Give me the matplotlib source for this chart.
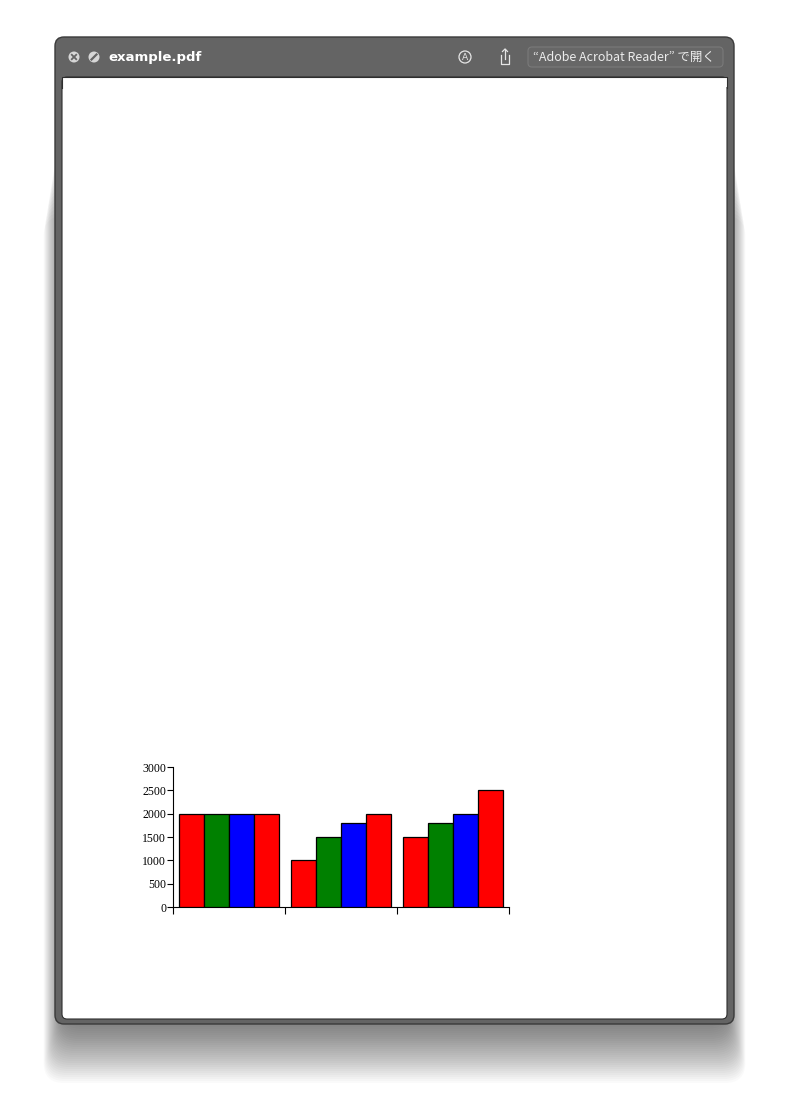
import matplotlib
matplotlib.use("Agg")
import matplotlib.pyplot as plt
from matplotlib.patches import FancyBboxPatch, Circle, Rectangle
import numpy as np

# Chart data
groups = ["", "", ""]
series_values = [
    [2000, 1000, 1500],
    [2000, 1500, 1800],
    [2000, 1800, 2000],
    [2000, 2000, 2500],
]
series_colors = ["#ff0000", "#008000", "#0000ff", "#ff0000"]
y_ticks = [0, 500, 1000, 1500, 2000, 2500, 3000]

# Window text
window_title = "example.pdf"
open_with = "\u201cAdobe Acrobat Reader\u201d で開く"

W, H = 789, 1098
fig = plt.figure(figsize=(W / 100, H / 100), dpi=100)
fig.patch.set_facecolor("white")

# Full-figure axes in pixel units for the window chrome
bg = fig.add_axes([0, 0, 1, 1])
bg.set_xlim(0, W)
bg.set_ylim(H, 0)
bg.axis("off")

# Soft shadow, mostly below the window; outer layers start lower so it fades in
for k in range(40):
    side = -14 + k * 0.65
    top = 60 + k * 4
    bottom = 1005 + k * 2.0
    bg.add_patch(FancyBboxPatch((55 - side, top),
                                679 + 2 * side, bottom - top,
                                boxstyle="round,pad=0,rounding_size=20",
                                facecolor="black", edgecolor="none",
                                alpha=0.02, zorder=1))

# Window frame
bg.add_patch(FancyBboxPatch((55, 37), 679, 987,
                            boxstyle="round,pad=0,rounding_size=9",
                            facecolor="#646464", edgecolor="#3a3a3a",
                            linewidth=1.0, zorder=2))
# Page area (square top corners, rounded bottom corners)
bg.add_patch(FancyBboxPatch((62, 77), 665, 942,
                            boxstyle="round,pad=0,rounding_size=5",
                            facecolor="white", edgecolor="#2e2e2e",
                            linewidth=0.8, zorder=3))
bg.add_patch(Rectangle((62, 77), 665, 10, facecolor="white",
                       edgecolor="none", zorder=3.1))
bg.plot([62, 62, 727, 727], [88, 77, 77, 88], color="#2e2e2e", lw=0.8, zorder=3.2)

# Title bar icons
bg.add_patch(Circle((74, 57), 5.5, facecolor="#d6d6d6", edgecolor="none", zorder=4))
bg.plot([71.8, 76.2], [54.8, 59.2], color="#646464", lw=1.3, zorder=5)
bg.plot([71.8, 76.2], [59.2, 54.8], color="#646464", lw=1.3, zorder=5)
bg.add_patch(Circle((94, 57), 5.5, facecolor="#d6d6d6", edgecolor="none", zorder=4))
bg.plot([91.5, 96.5], [59.5, 54.5], color="#646464", lw=1.6, zorder=5)

bg.text(108, 57.5, window_title, color="white", fontsize=9.5, fontweight="bold",
        ha="left", va="center", zorder=5)

# Markup icon (circled A)
bg.add_patch(Circle((465, 57), 6, facecolor="none", edgecolor="#e6e6e6", lw=0.9, zorder=5))
bg.text(465, 57.5, "A", color="#e6e6e6", fontsize=6.5, ha="center", va="center", zorder=5)

# Share icon
bg.plot([501, 501, 509, 509], [55, 64, 64, 55], color="#e6e6e6", lw=0.9, zorder=5)
bg.plot([505, 505], [59, 49], color="#e6e6e6", lw=0.9, zorder=5)
bg.plot([502.5, 505, 507.5], [51.5, 49, 51.5], color="#e6e6e6", lw=0.9, zorder=5)

# "Open with" button
bg.add_patch(FancyBboxPatch((528, 47), 195, 20,
                            boxstyle="round,pad=0,rounding_size=4",
                            facecolor="#676767", edgecolor="#7a7a7a",
                            linewidth=0.8, zorder=4))
bg.text(533, 57.5, open_with, color="#ececec", fontsize=9,
        family=["Noto Sans CJK JP", "DejaVu Sans"],
        ha="left", va="center", zorder=5)

# Bar chart
ax = fig.add_axes([173 / W, 1 - 907 / H, 336 / W, 140 / H])
ax.set_facecolor("none")
n_series = len(series_values)
bar_w = 25 / 112
margin = (1 - n_series * bar_w) / 2
x = np.arange(len(groups))
for j, (vals, col) in enumerate(zip(series_values, series_colors)):
    ax.bar(x + margin + j * bar_w, vals, width=bar_w, align="edge",
           color=col, edgecolor="black", linewidth=0.9, zorder=3)

ax.set_xlim(0, len(groups))
ax.set_ylim(0, 3000)
ax.set_yticks(y_ticks)
ax.set_yticklabels([str(v) for v in y_ticks], family="Liberation Serif", fontsize=8.5)
ax.set_xticks(np.arange(len(groups) + 1))
ax.set_xticklabels([""] * (len(groups) + 1))
ax.spines["top"].set_visible(False)
ax.spines["right"].set_visible(False)
for s in ("left", "bottom"):
    ax.spines[s].set_linewidth(0.8)
ax.tick_params(axis="y", length=4, width=0.8, pad=1)
ax.tick_params(axis="x", length=5, width=0.8)

fig.savefig("out.png", dpi=100)
